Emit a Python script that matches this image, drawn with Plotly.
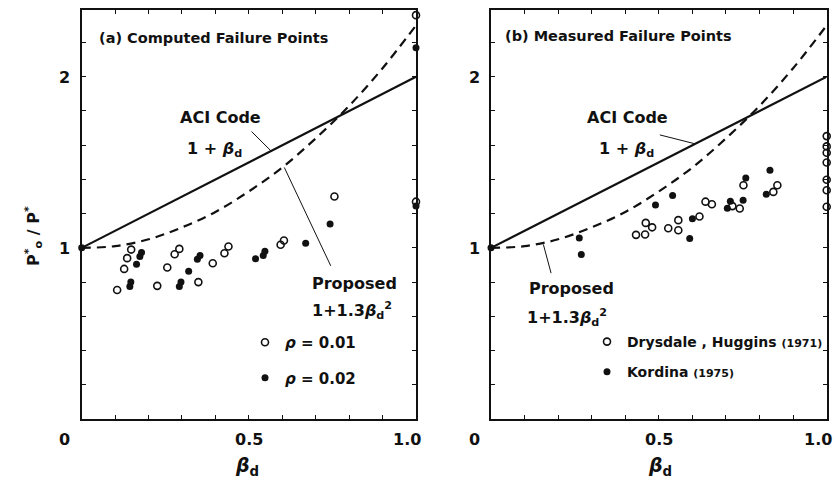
import plotly.graph_objects as go

# ---------------- data ----------------
# reference curves
aci_x = [0.0, 1.0]
aci_y = [1.0, 2.0]
prop_x = [0.0, 0.1, 0.2, 0.3, 0.4, 0.5, 0.6, 0.7, 0.8, 0.9, 1.0]
prop_y = [1.0, 1.01, 1.05, 1.12, 1.21, 1.33, 1.47, 1.64, 1.83, 2.05, 2.30]

# (a) computed failure points
a_open_x = [0.106, 0.127, 0.136, 0.148, 0.226, 0.256, 0.278, 0.292, 0.349, 0.392,
            0.427, 0.439, 0.595, 0.605, 0.756, 1.0, 1.0]
a_open_y = [0.754, 0.877, 0.94, 0.99, 0.778, 0.885, 0.963, 0.994, 0.80, 0.91,
            0.969, 1.008, 1.018, 1.043, 1.30, 2.36, 1.27]
a_fill_x = [0.0, 0.144, 0.147, 0.164, 0.174, 0.179, 0.292, 0.297, 0.32, 0.346,
            0.354, 0.52, 0.543, 0.548, 0.67, 0.743, 1.0, 1.0]
a_fill_y = [1.0, 0.774, 0.80, 0.905, 0.95, 0.973, 0.774, 0.80, 0.864, 0.934,
            0.955, 0.936, 0.955, 0.98, 1.027, 1.14, 2.17, 1.245]

# (b) measured failure points
b_open_x = [0.432, 0.459, 0.461, 0.480, 0.528, 0.558, 0.558, 0.621, 0.639, 0.658,
            0.719, 0.741, 0.752, 0.841, 0.853, 1.0, 1.0, 1.0, 1.0, 1.0, 1.0, 1.0]
b_open_y = [1.076, 1.078, 1.146, 1.12, 1.115, 1.162, 1.103, 1.183, 1.27, 1.255,
            1.244, 1.23, 1.366, 1.327, 1.366, 1.653, 1.593, 1.556, 1.499, 1.398, 1.337, 1.24]
b_fill_x = [0.0, 0.263, 0.269, 0.490, 0.541, 0.592, 0.600, 0.704, 0.713, 0.751,
            0.759, 0.820, 0.831]
b_fill_y = [1.0, 1.057, 0.961, 1.251, 1.306, 1.055, 1.17, 1.232, 1.273, 1.279,
            1.409, 1.314, 1.454]

x_tick_vals = [0.0, 0.5, 1.0]
x_tick_text = ["0", "0.5", "1.0"]
x_tick_shift = [-17, 0, -9]
y_tick_vals = [1, 2]
y_tick_text = ["1", "2"]

# ---------------- figure ----------------
W, H = 836, 483
FONT = "DejaVu Sans"
BLACK = "#111111"

fig = go.Figure()

def px_x(p):
    return p / W

def px_y(p):
    return 1 - p / H

panels = [
    dict(xa="x", ya="y", leg="legend",
         open_x=a_open_x, open_y=a_open_y, fill_x=a_fill_x, fill_y=a_fill_y,
         open_name="<i>ρ</i> = 0.01", fill_name="<i>ρ</i> = 0.02"),
    dict(xa="x2", ya="y2", leg="legend2",
         open_x=b_open_x, open_y=b_open_y, fill_x=b_fill_x, fill_y=b_fill_y,
         open_name="Drysdale , Huggins <span style='font-size:11px'>(1971)</span>",
         fill_name="Kordina <span style='font-size:11px'>(1975)</span>"),
]

for i, p in enumerate(panels):
    fig.add_trace(go.Scatter(x=aci_x, y=aci_y, mode="lines", xaxis=p["xa"], yaxis=p["ya"],
                             line=dict(color=BLACK, width=2.2), showlegend=False,
                             hoverinfo="skip"))
    fig.add_trace(go.Scatter(x=prop_x, y=prop_y, mode="lines", xaxis=p["xa"], yaxis=p["ya"],
                             line=dict(color=BLACK, width=2.2, dash="9px,6px", shape="spline"),
                             showlegend=False, hoverinfo="skip"))
    fig.add_trace(go.Scatter(x=p["open_x"], y=p["open_y"], mode="markers",
                             xaxis=p["xa"], yaxis=p["ya"], name=p["open_name"],
                             legend=p["leg"], legendgroup=f"o{i}", cliponaxis=False,
                             marker=dict(symbol="circle-open", size=7, color=BLACK,
                                         line=dict(width=1.6, color=BLACK))))
    fig.add_trace(go.Scatter(x=p["fill_x"], y=p["fill_y"], mode="markers",
                             xaxis=p["xa"], yaxis=p["ya"], name=p["fill_name"],
                             legend=p["leg"], legendgroup=f"f{i}", cliponaxis=False,
                             marker=dict(symbol="circle", size=7, color=BLACK)))

axis_common = dict(showline=True, linewidth=2, linecolor=BLACK, mirror="ticks",
                   ticks="inside", ticklen=4, tickwidth=1, tickcolor=BLACK,
                   showgrid=False, zeroline=False, showticklabels=False)

yd = [px_y(419), px_y(10)]
fig.update_layout(
    width=W, height=H, margin=dict(l=0, r=0, t=0, b=0),
    paper_bgcolor="white", plot_bgcolor="white",
    font=dict(family=FONT, color=BLACK, size=15, weight="bold"),
    xaxis=dict(domain=[px_x(81.7), px_x(416)], range=[0, 1.0], dtick=0.1, tick0=0, **axis_common),
    yaxis=dict(domain=yd, range=[0, 2.39], dtick=0.2, tick0=0, **axis_common),
    xaxis2=dict(domain=[px_x(491), px_x(826.7)], range=[0, 1.0], dtick=0.1, tick0=0,
                anchor="y2", **axis_common),
    yaxis2=dict(domain=yd, range=[0, 2.39], dtick=0.2, tick0=0, anchor="x2", **axis_common),
    legend=dict(x=px_x(245), y=px_y(326), xanchor="left", yanchor="top",
                bgcolor="rgba(0,0,0,0)", borderwidth=0, tracegroupgap=13,
                font=dict(size=15, family=FONT, weight="bold")),
    legend2=dict(x=px_x(587), y=px_y(326), xanchor="left", yanchor="top",
                 bgcolor="rgba(0,0,0,0)", borderwidth=0, tracegroupgap=9,
                 font=dict(size=14, family=FONT, weight="bold")),
    showlegend=True,
)

ann = []
# tick labels
for xa, ya in [("x", "y"), ("x2", "y2")]:
    for v, t, s in zip(x_tick_vals, x_tick_text, x_tick_shift):
        ann.append(dict(x=v, xref=xa, y=px_y(439), yref="paper", text=t, showarrow=False,
                        xshift=s, font=dict(size=16), xanchor="center", yanchor="middle"))
    for v, t in zip(y_tick_vals, y_tick_text):
        ann.append(dict(x=0, xref=xa, y=v, yref=ya, text=t, showarrow=False,
                        xshift=-17, yshift=-1, font=dict(size=16), xanchor="center",
                        yanchor="middle"))

# axis titles
for cx in [247, 660]:
    ann.append(dict(x=px_x(cx), xref="paper", y=px_y(466), yref="paper",
                    text="<i>β</i><sub>d</sub>", showarrow=False,
                    font=dict(size=19), xanchor="center", yanchor="middle"))
ann.append(dict(x=px_x(33), xref="paper", y=px_y(236), yref="paper",
                text="P<sup>*</sup><sub>o</sub> / P<sup>*</sup>", textangle=-90,
                showarrow=False, font=dict(size=16), xanchor="center", yanchor="middle"))

# panel texts
texts = [
    (96.7, 38, "(a) Computed Failure Points", 14.5, "left"),
    (220, 117, "ACI Code", 16, "center"),
    (185, 149, "1 + <i>β</i><sub>d</sub>", 16, "left"),
    (310, 283, "Proposed", 16, "left"),
    (310, 310, "1+1.3<i>β</i><sub>d</sub><sup>2</sup>", 16, "left"),
    (503, 36, "(b) Measured Failure Points", 14.5, "left"),
    (627.5, 118, "ACI Code", 16, "center"),
    (596.7, 149, "1 + <i>β</i><sub>d</sub>", 16, "left"),
    (526.7, 288, "Proposed", 16, "left"),
    (525, 317, "1+1.3<i>β</i><sub>d</sub><sup>2</sup>", 16, "left"),
]
for x, y, t, s, anc in texts:
    ann.append(dict(x=px_x(x), xref="paper", y=px_y(y), yref="paper", text=t,
                    showarrow=False, font=dict(size=s), xanchor=anc, yanchor="middle"))
fig.update_layout(annotations=ann)

# leader lines from labels to curves
leaders = [
    ("x", "y", 0.508, 1.68, 0.568, 1.563),
    ("x", "y", 0.606, 1.47, 0.745, 0.895),
    ("x2", "y2", 0.503, 1.66, 0.608, 1.608),
    ("x2", "y2", 0.156, 1.02, 0.179, 0.852),
]
for xa, ya, x0, y0, x1, y1 in leaders:
    fig.add_shape(type="line", xref=xa, yref=ya, x0=x0, y0=y0, x1=x1, y1=y1,
                  line=dict(color=BLACK, width=1))

fig.write_html("out.html",
               config={"displayModeBar": False},
               post_script="document.body.style.margin='0';"
                           "document.body.style.overflow='hidden';")
